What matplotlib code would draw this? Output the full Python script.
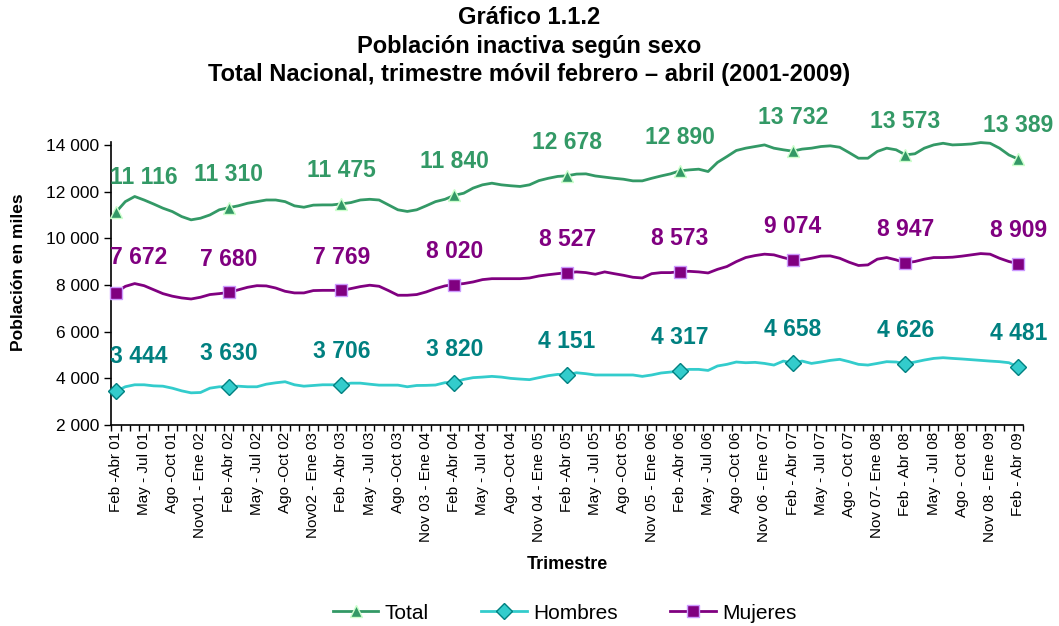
import matplotlib
matplotlib.use("Agg")
import matplotlib.pyplot as plt
import numpy as np

plt.rcParams['font.family'] = ['Liberation Sans', 'DejaVu Sans']

# quarter labels (every third moving quarter)
tick_labels = [
    "Feb -Abr 01", "May - Jul 01", "Ago -Oct 01", "Nov01 - Ene 02",
    "Feb -Abr 02", "May - Jul 02", "Ago -Oct 02", "Nov02 - Ene 03",
    "Feb -Abr 03", "May - Jul 03", "Ago -Oct 03", "Nov 03 - Ene 04",
    "Feb -Abr 04", "May - Jul 04", "Ago -Oct 04", "Nov 04 - Ene 05",
    "Feb -Abr 05", "May - Jul 05", "Ago -Oct 05", "Nov 05 - Ene 06",
    "Feb -Abr 06", "May - Jul 06", "Ago -Oct 06", "Nov 06 - Ene 07",
    "Feb - Abr 07", "May - Jul 07", "Ago - Oct 07", "Nov 07- Ene 08",
    "Feb - Abr 08", "May - Jul 08", "Ago - Oct 08", "Nov 08 - Ene 09",
    "Feb - Abr 09",
]

# monthly moving-quarter values, Feb-Abr 01 .. Feb-Abr 09 (miles)
total = [
    11116, 11570, 11790, 11640, 11470, 11290, 11145, 10930, 10790, 10860, 11000, 11220,
    11310, 11390, 11500, 11570, 11640, 11640, 11570, 11390, 11330, 11420, 11430, 11430,
    11475, 11530, 11640, 11670, 11640, 11430, 11220, 11150, 11220, 11390, 11570, 11670,
    11840, 11930, 12150, 12290, 12360, 12290, 12250, 12220, 12290, 12470, 12570, 12650,
    12678, 12750, 12760, 12670, 12620, 12570, 12530, 12460, 12460, 12570, 12670, 12760,
    12890, 12930, 12960, 12860, 13250, 13500, 13760, 13860, 13930, 14000, 13860, 13790,
    13732, 13820, 13860, 13930, 13960, 13900, 13670, 13430, 13430, 13720, 13860, 13790,
    13573, 13620, 13860, 14000, 14070, 14000, 14015, 14040, 14100, 14070, 13860, 13570,
    13389,
]
hombres = [
    3444, 3640, 3725, 3725, 3680, 3665, 3580, 3465, 3380, 3395, 3580, 3640,
    3630, 3665, 3640, 3640, 3750, 3810, 3855, 3725, 3665, 3695, 3725, 3725,
    3706, 3795, 3795, 3750, 3710, 3710, 3710, 3640, 3695, 3700, 3715, 3815,
    3820, 3955, 4030, 4055, 4085, 4055, 4000, 3970, 3945, 4030, 4115, 4170,
    4151, 4240, 4200, 4145, 4145, 4145, 4145, 4145, 4085, 4145, 4230, 4270,
    4317, 4385, 4385, 4340, 4530, 4600, 4700, 4670, 4685, 4640, 4570, 4740,
    4658, 4740, 4640, 4700, 4770, 4815, 4715, 4600, 4570, 4640, 4715, 4700,
    4626, 4700, 4785, 4855, 4885, 4855, 4830, 4800, 4770, 4740, 4715, 4670,
    4481,
]
mujeres = [
    7672, 7940, 8060, 7970, 7800, 7630, 7520, 7445, 7400, 7475, 7590, 7630,
    7680, 7790, 7900, 7970, 7960, 7870, 7730, 7660, 7660, 7760, 7770, 7770,
    7769, 7845, 7930, 7990, 7945, 7760, 7560, 7560, 7590, 7700, 7845, 7960,
    8020, 8060, 8130, 8230, 8270, 8270, 8270, 8270, 8300, 8385, 8440, 8485,
    8527, 8560, 8530, 8460, 8560, 8485, 8415, 8330, 8300, 8485, 8530, 8530,
    8573, 8585, 8560, 8515, 8670, 8790, 9000, 9175, 9260, 9320, 9290, 9175,
    9074, 9075, 9145, 9235, 9245, 9145, 8975, 8835, 8860, 9105, 9175, 9075,
    8947, 9005, 9105, 9175, 9175, 9190, 9235, 9290, 9345, 9320, 9145, 9005,
    8909,
]

x = np.arange(len(total))
marked = x[::12]  # Feb-Abr of each year

fig = plt.figure(figsize=(10.59, 6.26), dpi=100)
ax = fig.add_axes([0.105, 0.321, 0.861, 0.452])

series = [
    ("Total", total, '#339966', '^', '#339966', '#CCFFCC', '#339966'),
    ("Hombres", hombres, '#33CCCC', 'D', '#33CCCC', '#008080', '#008080'),
    ("Mujeres", mujeres, '#800080', 's', '#800080', '#CC99FF', '#800080'),
]

for name, vals, lc, mk, mfc, mec, tc in series:
    vals = np.array(vals)
    ax.plot(x, vals, color=lc, lw=2, label=name, marker=mk, markevery=12,
            markersize=9 if mk != 'D' else 8, markerfacecolor=mfc,
            markeredgecolor=mec, markeredgewidth=1, clip_on=False, zorder=3)
    for i in marked:
        txt = f"{vals[i]:,}".replace(",", " ")
        if i == 0:
            ax.annotate(txt, (i, vals[i]), xytext=(-4, 25), textcoords='offset points',
                        ha='left', va='center', fontsize=16.5, fontweight='bold', color=tc)
        else:
            ax.annotate(txt, (i, vals[i]), xytext=(0, 24), textcoords='offset points',
                        ha='center', va='center', fontsize=16.5, fontweight='bold', color=tc)

ax.set_xlim(-0.5, 96.5)
ax.set_ylim(2000, 14120)
ax.set_yticks(np.arange(2000, 14001, 2000))
ax.set_yticklabels([f"{v:,}".replace(",", " ") for v in range(2000, 14001, 2000)], fontsize=12.5)

ax.set_xticks(x[::3])
ax.set_xticklabels(tick_labels, rotation=90, fontsize=11)
ax.set_xticks(np.arange(-0.5, 97, 1), minor=True)
ax.tick_params(axis='x', which='major', length=0, pad=5)
ax.tick_params(axis='x', which='minor', length=4, direction='out', width=1)
ax.tick_params(axis='y', length=5, direction='out', width=1)

for s in ['top', 'right']:
    ax.spines[s].set_visible(False)
ax.spines['left'].set_linewidth(1.2)
ax.spines['bottom'].set_linewidth(1.2)

ax.set_ylabel('Población en miles', fontsize=12.5, fontweight='bold')
ax.yaxis.set_label_coords(-0.093, 0.54)
ax.set_xlabel('Trimestre', fontsize=13, fontweight='bold', labelpad=10)

fig.text(0.5, 0.99, 'Gráfico 1.1.2\nPoblación inactiva según sexo\n'
         'Total Nacional, trimestre móvil febrero – abril (2001-2009)',
         ha='center', va='top', fontsize=17, fontweight='bold', linespacing=1.3)

ax.legend(loc='lower center', bbox_to_anchor=(0.497, -0.765), ncol=3, frameon=False,
          fontsize=15, handlelength=2.2, columnspacing=2.5, handletextpad=0.3)

fig.savefig('out.png', dpi=100)
